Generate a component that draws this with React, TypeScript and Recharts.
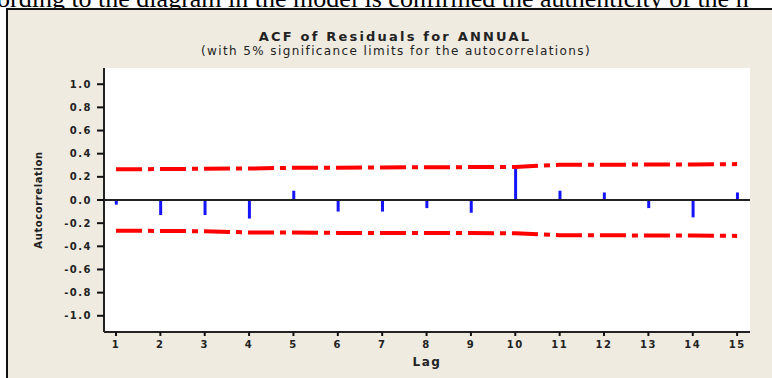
import React from "react"
import {
  ComposedChart,
  Bar,
  Line,
  XAxis,
  YAxis,
  ReferenceLine,
  CartesianGrid,
} from "recharts"

// lags and autocorrelations
const lags = [1, 2, 3, 4, 5, 6, 7, 8, 9, 10, 11, 12, 13, 14, 15]
const acf = [-0.04, -0.13, -0.13, -0.16, 0.08, -0.1, -0.1, -0.07, -0.11, 0.27, 0.08, 0.065, -0.07, -0.15, 0.065]
const upperLimit = [0.265, 0.267, 0.27, 0.272, 0.278, 0.279, 0.281, 0.283, 0.284, 0.286, 0.304, 0.305, 0.306, 0.306, 0.31]
const lowerLimit = [-0.265, -0.267, -0.27, -0.28, -0.28, -0.284, -0.285, -0.286, -0.286, -0.288, -0.304, -0.305, -0.306, -0.306, -0.31]
const yTicks = [-1.0, -0.8, -0.6, -0.4, -0.2, 0.0, 0.2, 0.4, 0.6, 0.8, 1.0]

const data = lags.map((lag, i) => ({
  lag,
  acf: acf[i],
  upper: upperLimit[i],
  lower: lowerLimit[i],
}))

const tickFont = { fontFamily: "DejaVu Sans", fontSize: 10, fontWeight: 700, letterSpacing: 1.5, fill: "#222" }

export default function App() {
  return (
    <div style={{ position: "fixed", left: 0, top: 0, width: 772, height: 378, overflow: "hidden", background: "#fff" }}>
      {/* cut-off line of the surrounding document */}
      <div
        style={{
          position: "absolute",
          left: -3,
          top: -14,
          whiteSpace: "nowrap",
          fontFamily: "Liberation Serif",
          fontSize: 26,
          lineHeight: "26px",
          color: "#000",
        }}
      >
        ording to the diagram in the model is confirmed the authenticity of the n
      </div>

      {/* beige frame */}
      <div
        style={{
          position: "absolute",
          left: 6,
          top: 8,
          width: 800,
          height: 400,
          background: "#efebe1",
          borderLeft: "2px solid #111",
          borderTop: "2px solid #111",
        }}
      />

      <div style={{ position: "absolute", left: 0, top: 0 }}>
        <ComposedChart width={772} height={378} data={data} margin={{ top: 68, right: 22, bottom: 16, left: 64 }}>
          <CartesianGrid horizontal={false} vertical={false} fill="#fff" />
          <XAxis
            dataKey="lag"
            type="number"
            domain={[0.73, 15.29]}
            ticks={lags}
            allowDataOverflow
            height={30}
            tickSize={4}
            tickMargin={5}
            tickLine={{ stroke: "#111", strokeWidth: 2 }}
            axisLine={{ stroke: "#222", strokeWidth: 2 }}
            tick={tickFont}
            label={{ value: "Lag", position: "insideBottom", offset: -4, style: { ...tickFont, fontSize: 12 } }}
          />
          <XAxis xAxisId="top" orientation="top" dataKey="lag" type="number" domain={[0.73, 15.29]} height={0} tick={false} tickLine={false} axisLine={{ stroke: "#222", strokeWidth: 2 }} />
          <YAxis
            type="number"
            domain={[-1.14, 1.14]}
            ticks={yTicks}
            allowDataOverflow
            width={40}
            tickSize={7}
            tickMargin={5}
            tickLine={{ stroke: "#111", strokeWidth: 2 }}
            axisLine={{ stroke: "#222", strokeWidth: 2 }}
            tick={tickFont}
            tickFormatter={(v: number) => v.toFixed(1)}
            label={{ value: "Autocorrelation", angle: -90, position: "insideLeft", offset: -26, style: { ...tickFont, fontSize: 10, letterSpacing: 0.6, textAnchor: "middle" } }}
          />
          <YAxis yAxisId="right" orientation="right" domain={[-1.14, 1.14]} width={0} tick={false} tickLine={false} axisLine={{ stroke: "#222", strokeWidth: 3 }} />
          <ReferenceLine y={0} stroke="#222" strokeWidth={2} />
          <Bar dataKey="acf" fill="#1414ff" barSize={3} isAnimationActive={false} />
          <Line dataKey="upper" type="linear" stroke="#ff0000" strokeWidth={4} strokeDasharray="26 6 6 6" dot={false} isAnimationActive={false} />
          <Line dataKey="lower" type="linear" stroke="#ff0000" strokeWidth={4} strokeDasharray="26 6 6 6" dot={false} isAnimationActive={false} />
          <text x={395} y={41} textAnchor="middle" style={{ fontFamily: "DejaVu Sans", fontSize: 13, fontWeight: 700, letterSpacing: 2.2, fill: "#222" }}>
            ACF of Residuals for ANNUAL
          </text>
          <text x={396} y={55} textAnchor="middle" style={{ fontFamily: "DejaVu Sans", fontSize: 12, letterSpacing: 1.4, fill: "#222" }}>
            (with 5% significance limits for the autocorrelations)
          </text>
        </ComposedChart>
      </div>
    </div>
  )
}
